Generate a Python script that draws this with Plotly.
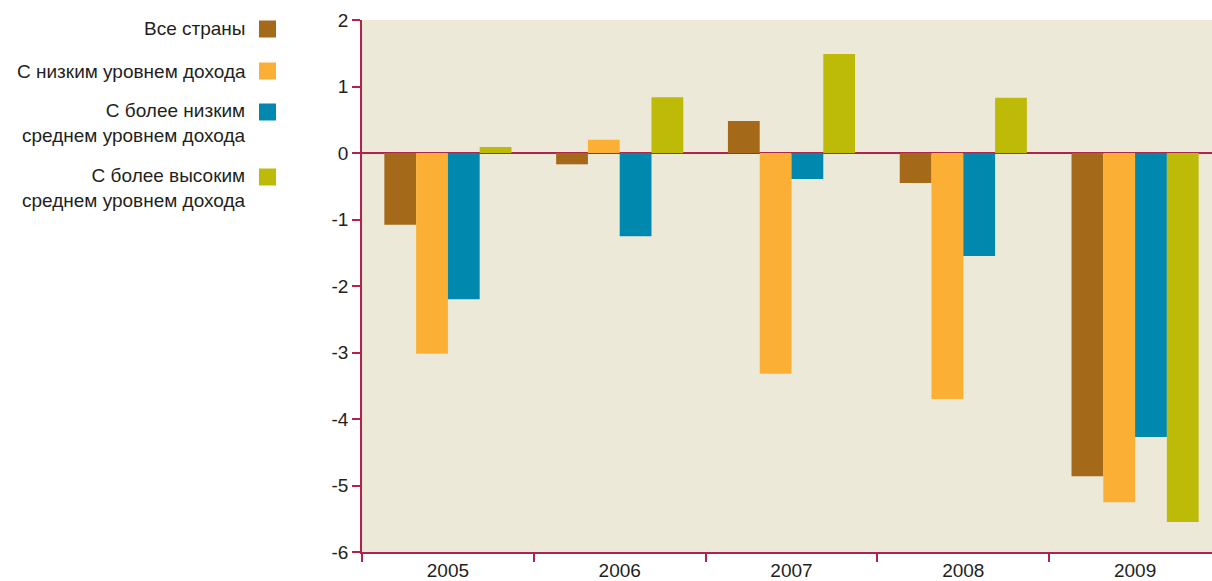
import plotly.graph_objects as go

years = ["2005", "2006", "2007", "2008", "2009"]
series_names = [
    "Все страны",
    "С низким уровнем дохода",
    "С более низким<br>среднем уровнем дохода",
    "С более высоким<br>среднем уровнем дохода",
]
all_countries = [-1.08, -0.17, 0.48, -0.45, -4.86]
low_income = [-3.02, 0.20, -3.32, -3.70, -5.25]
lower_middle = [-2.20, -1.25, -0.39, -1.55, -4.27]
upper_middle = [0.09, 0.84, 1.49, 0.83, -5.55]
y_ticks = [2, 1, 0, -1, -2, -3, -4, -5, -6]

values = [all_countries, low_income, lower_middle, upper_middle]
colors = ["#A5691A", "#FBB035", "#0088AF", "#BEBA08"]
axis_color = "#B0234B"
text_color = "#231F20"
FONT = "Liberation Sans Narrow, Arial Narrow, Liberation Sans, sans-serif"

fig = go.Figure()
for name, vals, col in zip(series_names, values, colors):
    fig.add_trace(go.Bar(x=years, y=vals, name=name, marker=dict(color=col, line=dict(width=0)),
                         showlegend=False))

# plot area spans page x 362..1221 (right part beyond the window), y 20..552
PX0, PW, PY0, PH = 362, 859, 20, 532
legend_y = [29, 71, 123, 188]
square_y = [29, 71, 112, 177]
for name, col, ly, sy in zip(series_names, colors, legend_y, square_y):
    fig.add_annotation(xref="paper", yref="paper", x=(248 - PX0) / PW, y=1 - (ly - PY0) / PH,
                       text=name, showarrow=False, xanchor="right", yanchor="middle", align="right",
                       font=dict(family=FONT, size=19, color=text_color))
    fig.add_shape(type="rect", xref="paper", yref="paper",
                  x0=(259 - PX0) / PW, x1=(276 - PX0) / PW,
                  y0=1 - (sy - PY0 + 8.5) / PH, y1=1 - (sy - PY0 - 8.5) / PH,
                  fillcolor=col, line=dict(width=0))

fig.update_layout(
    width=1221, height=581,
    margin=dict(l=362, r=0, t=20, b=29),
    paper_bgcolor="white",
    plot_bgcolor="#EDE9D8",
    barmode="group", bargap=0.26, bargroupgap=0,
    font=dict(family=FONT, size=19, color=text_color),
    xaxis=dict(range=[-0.5, 4.5], showgrid=False, showline=True, linecolor=axis_color, linewidth=1.5,
               ticks="outside", tickson="boundaries", ticklen=8, tickcolor=axis_color, tickwidth=1.5,
               tickfont=dict(family=FONT, size=19, color=text_color), zeroline=False),
    yaxis=dict(range=[-6, 2], tickvals=y_ticks, ticktext=[str(v) for v in y_ticks], showgrid=False,
               showline=True, linecolor=axis_color, linewidth=1.5,
               ticks="outside", ticklen=8, tickcolor=axis_color, tickwidth=1.5,
               zeroline=True, zerolinecolor=axis_color, zerolinewidth=1.5,
               tickfont=dict(family=FONT, size=19, color=text_color)),
)

fig.write_html("out.html", config={"displayModeBar": False},
               post_script="document.body.style.margin='0';document.body.style.overflow='hidden';")
